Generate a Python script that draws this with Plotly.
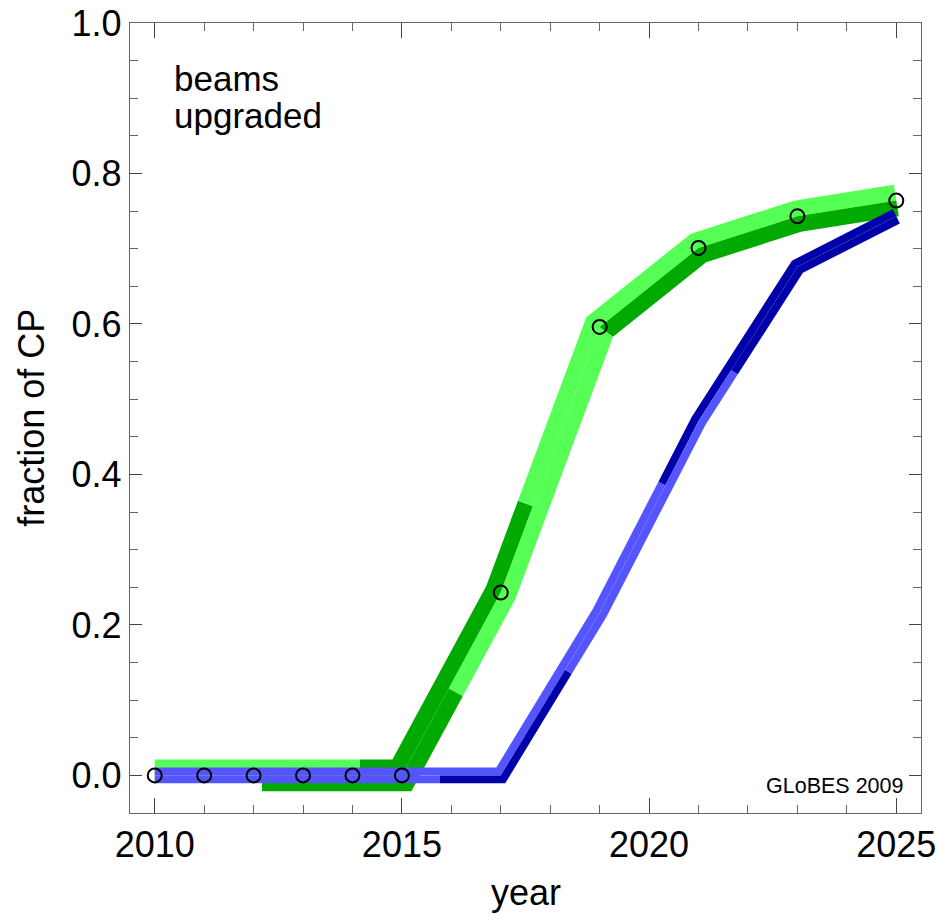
import numpy as np
import plotly.graph_objects as go

# ---- data ---------------------------------------------------------------
green_years = [2010, 2011, 2012, 2013, 2014, 2015, 2017, 2019, 2021, 2023, 2025]
green_frac = [0.0, 0.0, 0.0, 0.0, 0.0, 0.0, 0.243, 0.596, 0.701, 0.743, 0.764]

blue_years = [2010, 2011, 2012, 2013, 2014, 2015, 2016, 2017, 2019, 2021, 2023, 2025]
blue_frac = [0.0, 0.0, 0.0, 0.0, 0.0, 0.0, 0.0, 0.0, 0.216, 0.471, 0.676, 0.743]

# colour pieces of each half band: (from year, to year, shade)
green_upper = [(2010.0, 2014.15, "light"), (2014.15, 2017.65, "dark"), (2017.65, 2025.0, "light")]
green_lower = [(2012.17, 2015.95, "dark"), (2015.95, 2019.0, "light"), (2019.0, 2025.0, "dark")]
blue_upper = [(2010.0, 2020.33, "light"), (2020.33, 2025.0, "dark")]
blue_lower = [(2010.0, 2015.77, "light"), (2015.77, 2018.3, "dark"),
              (2018.3, 2021.66, "light"), (2021.66, 2025.0, "dark")]

x_ticks = [2010, 2015, 2020, 2025]
y_ticks = [0.0, 0.2, 0.4, 0.6, 0.8, 1.0]

GREEN = {"light": "#55FF55", "dark": "#00AA00"}
BLUE = {"light": "#5555FF", "dark": "#0000AA"}

# ---- layout geometry ----------------------------------------------------
FIG_W, FIG_H = 940, 917
M_L, M_R, M_T, M_B = 130, 19, 23, 104
PW, PH = FIG_W - M_L - M_R, FIG_H - M_T - M_B
X0, X1 = 2009.5, 2025.5
Y0, Y1 = -0.05, 1.0


def to_px(x, y):
    return np.array([(x - X0) / (X1 - X0) * PW, (y - Y0) / (Y1 - Y0) * PH])


def to_data(p):
    return X0 + p[0] / PW * (X1 - X0), Y0 + p[1] / PH * (Y1 - Y0)


def band_pieces(years, vals, pieces, d_in, d_out, colors):
    """Polygons for one half of a thick band, offset from the curve in pixels."""
    P = [to_px(x, y) for x, y in zip(years, vals)]
    n = len(P)
    normals = []
    for i in range(n - 1):
        u = P[i + 1] - P[i]
        u = u / np.hypot(*u)
        normals.append(np.array([-u[1], u[0]]))
    miters = [normals[0]]
    for k in range(1, n - 1):
        a, b = normals[k - 1], normals[k]
        miters.append((a + b) / (1.0 + a @ b))
    miters.append(normals[-1])

    def point(x, d):
        for k in range(n):
            if abs(x - years[k]) < 1e-9:
                return P[k] + d * miters[k]
        for i in range(n - 1):
            if years[i] < x < years[i + 1]:
                t = (x - years[i]) / (years[i + 1] - years[i])
                return P[i] + t * (P[i + 1] - P[i]) + d * normals[i]
        raise ValueError(x)

    def edge(xa, xb, d):
        pts = [point(xa, d)]
        for k in range(n):
            if xa + 1e-9 < years[k] < xb - 1e-9:
                pts.append(P[k] + d * miters[k])
        pts.append(point(xb, d))
        return pts

    traces = []
    for xa, xb, shade in pieces:
        poly = edge(xa, xb, d_out) + edge(xa, xb, d_in)[::-1]
        poly.append(poly[0])
        xs, ys = zip(*[to_data(p) for p in poly])
        traces.append(go.Scatter(
            x=xs, y=ys, mode="lines", fill="toself",
            fillcolor=colors[shade], line=dict(width=0),
            hoverinfo="skip", showlegend=False))
    return traces


fig = go.Figure()

GW, BW = 15.9, 7.9  # half-band widths in pixels
for tr in band_pieces(green_years, green_frac, green_upper, 0, GW, GREEN):
    fig.add_trace(tr)
for tr in band_pieces(green_years, green_frac, green_lower, -GW, 0, GREEN):
    fig.add_trace(tr)
for tr in band_pieces(blue_years, blue_frac, blue_upper, 0, BW, BLUE):
    fig.add_trace(tr)
for tr in band_pieces(blue_years, blue_frac, blue_lower, -BW, 0, BLUE):
    fig.add_trace(tr)

fig.add_trace(go.Scatter(
    x=green_years, y=green_frac, mode="markers",
    marker=dict(symbol="circle-open", size=14, color="black", line=dict(width=2)),
    showlegend=False, hoverinfo="skip"))

FONT = "Liberation Sans, Arial, sans-serif"
axis_common = dict(
    showline=True, linecolor="#666666", linewidth=1.3, mirror="ticks",
    ticks="inside", tickcolor="#444444", tickwidth=1.2,
    showgrid=False, zeroline=False, automargin=False,
    tickfont=dict(family=FONT, size=36, color="black"),
)

fig.update_xaxes(
    range=[X0, X1], tickvals=x_ticks, ticklen=15,
    minor=dict(dtick=1, tick0=2010, ticklen=8, ticks="inside", tickcolor="#666666", tickwidth=1.2),
    **axis_common)
fig.update_yaxes(
    range=[Y0, Y1], tickvals=y_ticks, tickformat=".1f", ticklen=12,
    minor=dict(dtick=0.05, tick0=0, ticklen=8, ticks="inside", tickcolor="#666666", tickwidth=1.2),
    **axis_common)

title_font = dict(family=FONT, size=36, color="black")
fig.add_annotation(x=0.5, y=-0.101, xref="paper", yref="paper", xanchor="center", yanchor="middle",
                   text="year", showarrow=False, font=title_font)
fig.add_annotation(x=-0.1255, y=0.5, xref="paper", yref="paper", xanchor="center", yanchor="middle",
                   text="fraction of CP", textangle=-90, showarrow=False, font=title_font)

fig.add_annotation(x=0.053, y=0.957, xref="paper", yref="paper", xanchor="left", yanchor="top",
                   text="beams", showarrow=False, font=dict(family=FONT, size=35, color="black"))
fig.add_annotation(x=0.053, y=0.9097, xref="paper", yref="paper", xanchor="left", yanchor="top",
                   text="upgraded", showarrow=False, font=dict(family=FONT, size=35, color="black"))
fig.add_annotation(x=0.98, y=0.0165, xref="paper", yref="paper", xanchor="right", yanchor="bottom",
                   text="GLoBES 2009", showarrow=False, font=dict(family=FONT, size=21.5, color="black"))

fig.update_layout(
    width=FIG_W, height=FIG_H,
    margin=dict(l=M_L, r=M_R, t=M_T, b=M_B),
    plot_bgcolor="white", paper_bgcolor="white",
    showlegend=False,
)

fig.write_html("out.html")
